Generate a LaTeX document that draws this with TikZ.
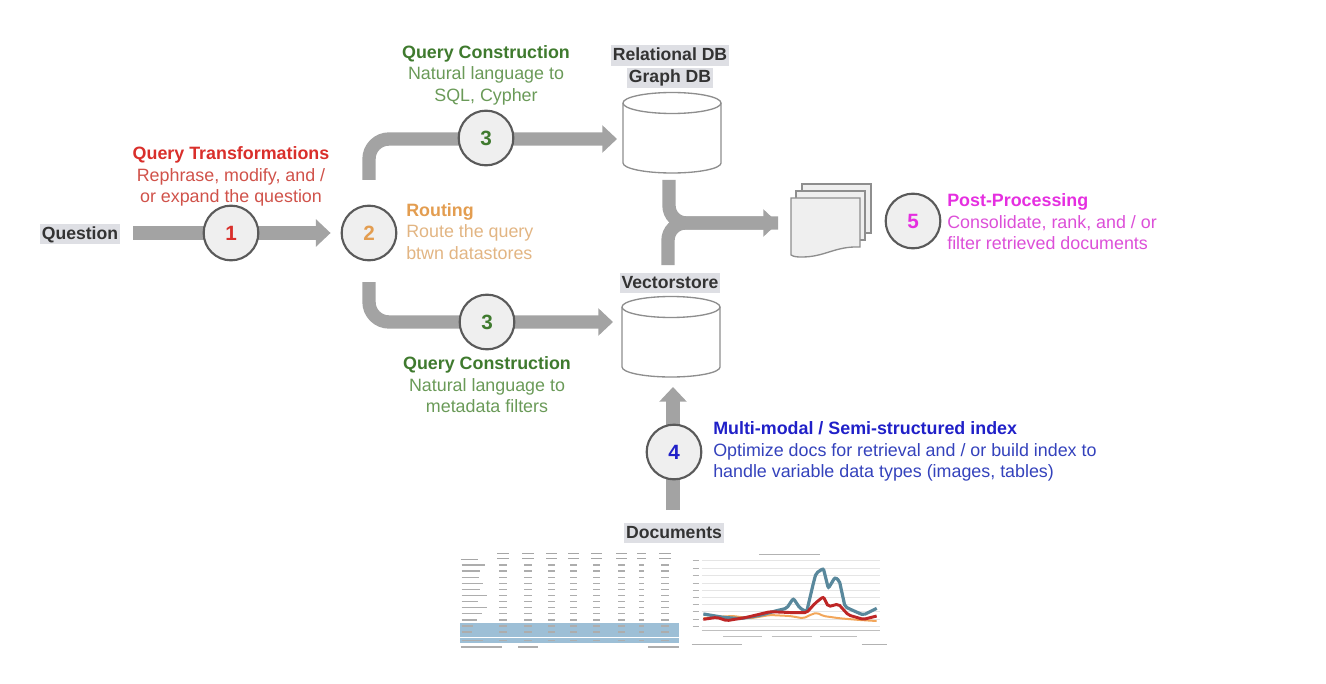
\documentclass[tikz,border=0pt]{standalone}
\usepackage{fontspec}
\setmainfont{Liberation Sans}
\usetikzlibrary{arrows.meta,backgrounds}
\definecolor{flowgray}{HTML}{A3A3A3}
\definecolor{ringgray}{HTML}{5A5A5A}
\definecolor{discfill}{HTML}{EFEFEF}
\definecolor{dbline}{HTML}{8E8E8E}
\definecolor{tagbg}{HTML}{DEDFE4}
\definecolor{greenT}{HTML}{3F7A2E}
\definecolor{greenB}{HTML}{6A9A58}
\definecolor{redT}{HTML}{D92F2B}
\definecolor{redB}{HTML}{D0524A}
\definecolor{orangeT}{HTML}{E39D50}
\definecolor{orangeB}{HTML}{E2B583}
\definecolor{magT}{HTML}{E52FE0}
\definecolor{magB}{HTML}{DC4FD8}
\definecolor{blueT}{HTML}{2020C8}
\definecolor{blueB}{HTML}{3442BC}
\definecolor{bandblue}{HTML}{9DBFD6}
\tikzset{
  flow/.style={draw=flowgray,line width=10pt,-{Triangle[length=11pt,width=20pt]}},
  flowplain/.style={draw=flowgray,line width=10pt},
  disc/.style={circle,draw=ringgray,fill=discfill,line width=1.6pt,minimum size=41pt,inner sep=0pt,font=\fontsize{15.5}{18}\selectfont\bfseries},
  tag/.style={fill=tagbg,inner xsep=1.2pt,inner ysep=1pt,text height=10.5pt,text depth=3pt,font=\fontsize{13.2}{15}\selectfont\bfseries,text=black!80},
  note/.style={inner sep=0pt,font=\fontsize{13.4}{16.2}\selectfont},
  dbshape/.style={draw=dbline,line width=1pt,fill=white},
  sheet/.style={draw=dbline,line width=1pt,fill=discfill},
  tablebar/.style={draw=black!32,line width=1pt},
}
\begin{document}
\begin{tikzpicture}[x=0.75pt,y=-0.75pt]
\useasboundingbox (0,0) rectangle (1326,684);

% stage discs
\node[disc,text=redT] (c1) at (231,233) {1};
\node[disc,text=orangeT] (c2) at (369,233) {2};
\node[disc,text=greenT] (c3a) at (486,138) {3};
\node[disc,text=greenT] (c3b) at (487,322) {3};
\node[disc,text=blueT] (c4) at (674,452) {4};
\node[disc,text=magT] (c5) at (913,221) {5};

% tags
\node[tag] (question) at (80,234) {Question};
\node[tag] (reldb) at (670,55.5) {Relational DB};
\node[tag] (graphdb) at (670,78) {Graph DB};
\node[tag] (vstore) at (670,283) {Vectorstore};
\node[tag] (docs) at (674,533) {Documents};

% texts
\node[note,align=center,text=redB] (t1) at (231,176.5) {\textcolor{redT}{\bfseries Query Transformations}\\Rephrase, modify, and /\\or expand the question};
\node[note,align=left,anchor=west,text=orangeB] (t2) at (406,231.5) {\textcolor{orangeT}{\bfseries Routing}\\Route the query\\btwn datastores};
\node[note,align=center,text=greenB] (t3a) at (486,75) {\textcolor{greenT}{\bfseries Query Construction}\\Natural language to\\SQL, Cypher};
\node[note,align=center,text=greenB] (t3b) at (487,385) {\textcolor{greenT}{\bfseries Query Construction}\\Natural language to\\metadata filters};
\node[note,align=left,anchor=west,text=blueB] (t4) at (713,451.5) {\textcolor{blueT}{\bfseries Multi-modal / Semi-structured index}\\Optimize docs for retrieval and / or build index to\\handle variable data types (images, tables)};
\node[note,align=left,anchor=west,text=magB] (t5) at (947,222) {\textcolor{magT}{\bfseries Post-Processing}\\Consolidate, rank, and / or\\filter retrieved documents};

% databases
\path[dbshape] (623,103) -- (623,163) arc[start angle=180,end angle=0,x radius=49,y radius=10] -- (721,103) arc[start angle=0,end angle=-180,x radius=49,y radius=10.5] -- cycle;
\draw[dbshape,fill=none] (623,103) arc[start angle=180,end angle=0,x radius=49,y radius=10.5];
\path[dbshape] (622,307) -- (622,367) arc[start angle=180,end angle=0,x radius=49,y radius=10] -- (720,307) arc[start angle=0,end angle=-180,x radius=49,y radius=10.5] -- cycle;
\draw[dbshape,fill=none] (622,307) arc[start angle=180,end angle=0,x radius=49,y radius=10.5];
\node[inner sep=0pt,minimum width=73.5pt,minimum height=60pt] (db1) at (672,133) {};
\node[inner sep=0pt,minimum width=73.5pt,minimum height=60pt] (db2) at (671,337) {};

% retrieved documents
\draw[sheet] (802,184) rectangle (871,233);
\draw[sheet] (796,191) rectangle (865,240);
\path[sheet] (791,198) -- (860,198) -- (860,247) .. controls (835,246) and (825,257) .. (802,257) .. controls (798,257) and (794,257) .. (791,255) -- cycle;
\node[inner sep=0pt,minimum width=60pt,minimum height=55pt] (stack) at (831,220) {};

% connectors
\coordinate (up) at (369,180);
\coordinate (down) at (369,282);
\coordinate (tipA) at (617,139);
\coordinate (tipB) at (613,322);
\coordinate (m1) at (669,180);
\coordinate (m2) at (668,265);
\coordinate (mt) at (778,223);
\coordinate (d4) at (673,510);
\coordinate (t4tip) at (673,387);
\coordinate (qstart) at (133,233);
\begin{scope}[on background layer]
  \draw[flow,shorten >=7.5pt] (qstart) -- (c2.west);
  \draw[flow,rounded corners=15pt] (up) |- (tipA);
  \draw[flow,rounded corners=15pt] (down) |- (tipB);
  \draw[flowplain,rounded corners=13pt] (m1) |- (mt);
  \draw[flow,rounded corners=13pt] (m2) |- (mt);
  \draw[flow] (d4) -- (t4tip);
\end{scope}

% document thumbnails
\begin{scope}[shift={(440,540)},x=0.25pt,y=-0.25pt]
  \fill[bandblue] (60,250) rectangle (718,290);
  \fill[bandblue] (60,295) rectangle (718,308);
  \foreach \cx/\cw in {190/24,265/24,335/20,400/20,470/20,545/20,605/16,675/24}{
    \draw[black!35,line width=.6pt] (\cx-\cw/2-6,40) -- (\cx+\cw/2+6,40);
    \draw[black!35,line width=.6pt] (\cx-\cw/2-6,55) -- (\cx+\cw/2+6,55);
    \foreach \ry in {75,93,112,130,148,167,185,203,221,240,258,276,301}{
      \draw[tablebar] (\cx-\cw/2,\ry) -- (\cx+\cw/2,\ry);
    }
  }
  \draw[black!35,line width=.6pt] (62,58) -- (115,58);
  \foreach \ry/\rw in {75/135,93/120,112/118,130/130,148/120,167/142,185/115,203/140,221/125,240/112,258/100,276/95,301/130}{
    \draw[tablebar] (65,\ry) -- (\rw,\ry);
  }
  \draw[tablebar] (62,321) -- (185,321);
  \draw[tablebar] (235,321) -- (295,321);
  \draw[tablebar] (625,321) -- (718,321);
  % chart
  \draw[black!30,line width=.6pt] (958,44) -- (1140,44);
  \foreach \gy in {62,85,107,129,150,172,194,215,237,258}{
    \draw[black!10,line width=.4pt] (785,\gy) -- (1320,\gy);
    \draw[black!30,line width=.6pt] (758,\gy) -- (778,\gy);
  }
  \draw[black!25,line width=.6pt] (785,270) -- (1320,270);
  \draw[black!25,line width=.6pt] (850,288) -- (965,288);
  \draw[black!25,line width=.6pt] (995,288) -- (1115,288);
  \draw[black!25,line width=.6pt] (1140,288) -- (1250,288);
  \draw[black!30,line width=.6pt] (755,313) -- (905,313);
  \draw[black!30,line width=.6pt] (1265,313) -- (1340,313);
  \draw[color=orange!70!brown!70,line width=1.5pt,rounded corners=1.5pt] (790,235) -- (840,230) -- (880,228) -- (930,235) -- (990,225) -- (1050,228) -- (1090,235) -- (1110,225) -- (1130,218) -- (1150,228) -- (1200,235) -- (1260,240) -- (1310,243);
  \draw[color=blue!30!cyan!40!black!65,line width=2.4pt,rounded corners=1.5pt] (790,222) -- (850,232) -- (900,236) -- (960,226) -- (1010,212) -- (1040,205) -- (1060,175) -- (1080,205) -- (1100,215) -- (1120,130) -- (1128,100) -- (1150,85) -- (1165,145) -- (1185,112) -- (1198,122) -- (1215,200) -- (1240,212) -- (1270,225) -- (1310,205);
  \draw[color=red!70!black!85,line width=2.2pt,rounded corners=1.5pt] (790,238) -- (830,232) -- (860,242) -- (920,232) -- (990,215) -- (1060,218) -- (1100,218) -- (1125,190) -- (1150,170) -- (1165,200) -- (1195,192) -- (1225,225) -- (1270,238) -- (1310,228);
\end{scope}
\end{tikzpicture}
\end{document}
